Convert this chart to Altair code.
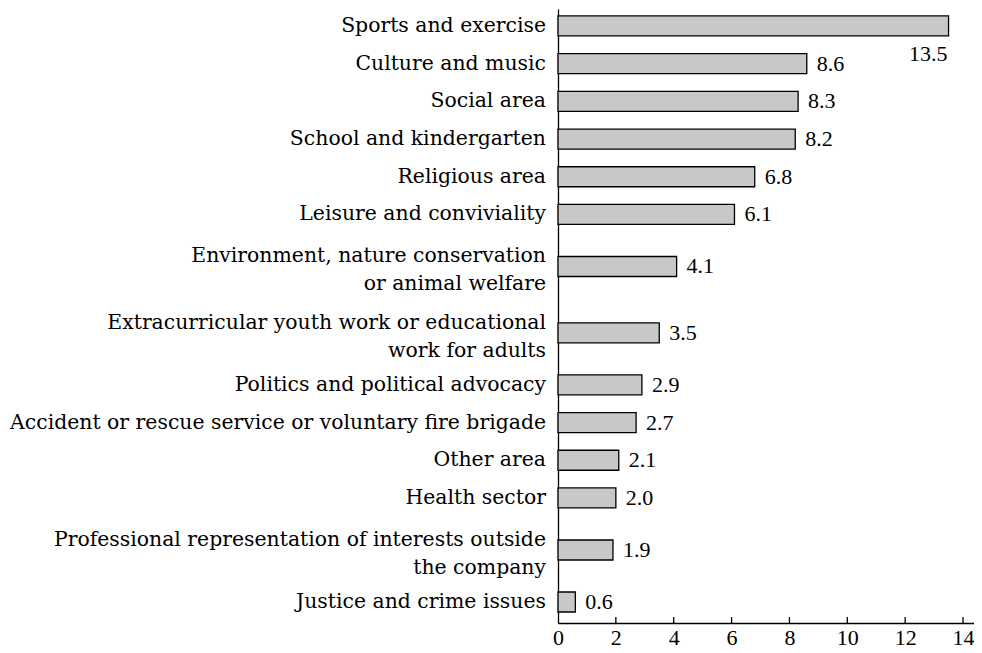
import altair as alt
import pandas as pd

categories = [
    "Sports and exercise",
    "Culture and music",
    "Social area",
    "School and kindergarten",
    "Religious area",
    "Leisure and conviviality",
    "Environment, nature conservation\nor animal welfare",
    "Extracurricular youth work or educational\nwork for adults",
    "Politics and political advocacy",
    "Accident or rescue service or voluntary fire brigade",
    "Other area",
    "Health sector",
    "Professional representation of interests outside\nthe company",
    "Justice and crime issues",
]
values = [13.5, 8.6, 8.3, 8.2, 6.8, 6.1, 4.1, 3.5, 2.9, 2.7, 2.1, 2.0, 1.9, 0.6]
x_ticks = [0, 2, 4, 6, 8, 10, 12, 14]

df = pd.DataFrame({"category": categories, "value": values})
df["label"] = df["value"].map(lambda v: f"{v:.1f}")
df["lines"] = df["category"].str.count("\n") + 1
df["h"] = df["lines"].map(lambda n: 1.0 if n == 1 else 1.76)
df["pos"] = df["h"].cumsum() - df["h"] / 2

W, H = 416, 614
PX_PER_UNIT_X = 28.93
y0 = 0.05
y1 = y0 + H / 37.7

LABEL_FONT = "DejaVu Serif"
NUM_FONT = "Liberation Serif"
LH = 28

x_scale = alt.Scale(domain=[0, W / PX_PER_UNIT_X], nice=False, zero=True,
                    padding=0)
y_scale = alt.Scale(domain=[y0, y1], reverse=True, nice=False, zero=False,
                    padding=0)

base = alt.Chart(df)

bars = base.mark_bar(orient="horizontal", size=20, fill="#c8c8c8",
                     stroke="black", strokeWidth=1.3).encode(
    x=alt.X("value:Q", scale=x_scale,
            axis=alt.Axis(values=x_ticks, title=None, ticks=False, grid=False,
                          domainColor="black", domainWidth=1.3,
                          labelFont=NUM_FONT, labelFontSize=22,
                          labelColor="black", labelPadding=4,
                          labelFlush=False)),
    y=alt.Y("pos:Q", scale=y_scale,
            axis=alt.Axis(labels=False, ticks=False, grid=False, title=None,
                          domainColor="black", domainWidth=1.3)),
)

vals = base.transform_filter("datum.value < 13").mark_text(
    align="left", baseline="middle", dx=10, font=NUM_FONT, fontSize=22,
    color="black"
).encode(x="value:Q", y="pos:Q", text="label:N")

big = base.transform_filter("datum.value >= 13").mark_text(
    align="right", baseline="middle", dx=-1, dy=28, font=NUM_FONT, fontSize=22,
    color="black"
).encode(x="value:Q", y="pos:Q", text="label:N")

cats1 = base.transform_filter("datum.lines == 1").mark_text(
    align="right", baseline="middle", font=LABEL_FONT, fontSize=20.4,
    color="black"
).encode(x=alt.value(-12), y="pos:Q", text="category:N")

cats2 = base.transform_filter("datum.lines == 2").mark_text(
    align="right", baseline="middle", font=LABEL_FONT, fontSize=20.4,
    color="black", lineBreak="\n", lineHeight=LH, dy=-10
).encode(x=alt.value(-12), y="pos:Q", text="category:N")

tick_df = pd.DataFrame({"t": x_ticks[1:]})
ticks = alt.Chart(tick_df).mark_rule(color="black", strokeWidth=1.3).encode(
    x=alt.X("t:Q", scale=x_scale),
    y=alt.value(H - 6),
    y2=alt.value(H),
)

chart = alt.layer(bars, vals, big, cats1, cats2, ticks).properties(
    width=W, height=H,
    autosize=alt.AutoSizeParams(type="none"),
    padding={"left": 550, "top": 1, "right": 0, "bottom": 28},
).configure_view(stroke=None)

chart.save("out.html", embed_options={"renderer": "svg", "actions": False})
